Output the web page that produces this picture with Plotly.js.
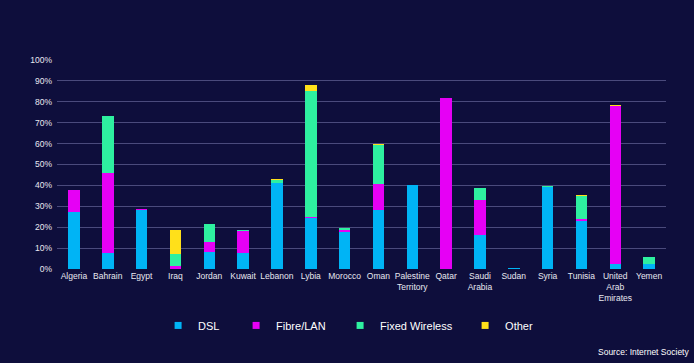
<!DOCTYPE html>
<html>
<head>
<meta charset="utf-8">
<script src="https://cdn.plot.ly/plotly-3.0.1.min.js"></script>
<style>
html,body{margin:0;padding:0;background:#0e0e3c;}
#chart{width:694px;height:363px;}
</style>
</head>
<body>
<div id="chart"></div>
<script>
var categories = ["Algeria","Bahrain","Egypt","Iraq","Jordan","Kuwait","Lebanon","Lybia","Morocco","Oman","Palestine<br>Territory","Qatar","Saudi<br>Arabia","Sudan","Syria","Tunisia","United<br>Arab<br>Emirates","Yemen"];
var dsl          = [27.2, 7.5, 28.0, 0.2, 8.3, 7.5, 41.1, 24.3, 17.9, 28.3, 40.3, 0.0, 16.3, 0.6, 39.2, 23.2, 2.4, 2.3];
var fibre        = [10.7, 38.5, 0.6, 1.0, 4.8, 10.7, 0.1, 0.5, 0.8, 12.5, 0.0, 81.9, 16.8, 0.0, 0.0, 0.5, 75.5, 0.0];
var fixedWireless= [0.0, 27.3, 0.0, 6.0, 8.5, 0.6, 1.5, 60.3, 0.7, 18.4, 0.0, 0.0, 5.6, 0.0, 0.5, 11.3, 0.3, 3.3];
var other        = [0.0, 0.0, 0.0, 11.4, 0.0, 0.0, 0.5, 2.8, 0.0, 0.6, 0.0, 0.0, 0.0, 0.0, 0.0, 0.3, 0.4, 0.0];
var seriesNames  = ["DSL","Fibre/LAN","Fixed Wireless","Other"];
var colors       = ["#00b4f5","#e600f5","#2ef0a0","#ffe01a"];
var yTickVals    = [0,10,20,30,40,50,60,70,80,90,100];
var yTickText    = ["0%","10%","20%","30%","40%","50%","60%","70%","80%","90%","100%"];

var legendWidths = [33, 59, 80, 35];
var values = [dsl, fibre, fixedWireless, other];
var traces = [];
values.forEach(function(v,i){
  traces.push({type:'bar', x:categories, y:v, name:seriesNames[i],
    marker:{color:colors[i], line:{width:0}}, showlegend:false, hoverinfo:'none'});
});
values.forEach(function(v,i){
  traces.push({type:'scatter', mode:'markers', x:[null], y:[null], name:seriesNames[i],
    legendwidth:legendWidths[i],
    marker:{symbol:'square', size:7, color:colors[i]}, showlegend:true, hoverinfo:'none'});
});

var font = "Liberation Sans, Arial, sans-serif";
var layout = {
  width:694, height:363,
  paper_bgcolor:'#0e0e3c', plot_bgcolor:'#0e0e3c',
  margin:{l:57, r:28, t:60, b:94},
  barmode:'stack', bargap:0.66,
  showlegend:true,
  legend:{orientation:'h', traceorder:'normal', x:0.166, xanchor:'left', y:-0.27, yanchor:'middle',
    font:{family:font, size:11, color:'#ffffff'}, itemwidth:30, bgcolor:'rgba(0,0,0,0)'},
  xaxis:{tickfont:{family:font, size:8.5, color:'#e8e8f0'}, showgrid:false, zeroline:false,
    showline:false, ticks:'', tickangle:0, automargin:false, fixedrange:true},
  yaxis:{range:[0,100], tickvals:yTickVals, ticktext:yTickText, ticklabelstandoff:4,
    tickfont:{family:font, size:8.5, color:'#e8e8f0'}, gridcolor:'#4a4a7c', gridwidth:1,
    zeroline:false, showline:false, ticks:'', automargin:false, fixedrange:true},
  annotations:[{text:'Source: Internet Society', xref:'paper', yref:'paper', x:1.041, y:-0.395,
    xanchor:'right', yanchor:'middle', showarrow:false, font:{family:font, size:8.5, color:'#ffffff'}}]
};
Plotly.newPlot('chart', traces, layout, {displayModeBar:false, staticPlot:true});
</script>
</body>
</html>
